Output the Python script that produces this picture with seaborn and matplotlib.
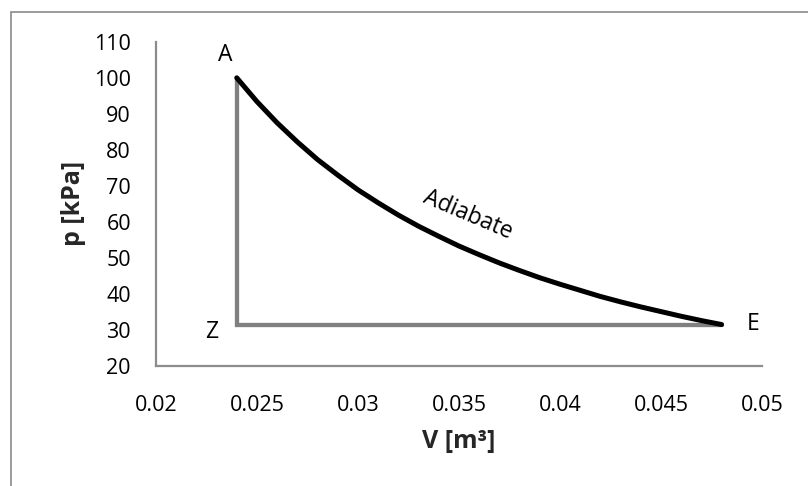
import matplotlib
matplotlib.use("Agg")
import matplotlib.pyplot as plt
import seaborn as sns
from matplotlib.patches import Rectangle

# adiabate (V in m3, p in kPa)
vol = [0.024, 0.025, 0.026, 0.027, 0.028, 0.029, 0.030, 0.031, 0.032,
       0.033, 0.034, 0.035, 0.036, 0.037, 0.038, 0.039, 0.040, 0.041,
       0.042, 0.043, 0.044, 0.045, 0.046, 0.047, 0.048]
pres = [100.0, 93.4, 87.5, 82.2, 77.3, 73.0, 68.9, 65.3, 61.9,
        58.8, 56.0, 53.3, 50.9, 48.6, 46.5, 44.5, 42.7, 41.0,
        39.3, 37.8, 36.4, 35.1, 33.8, 32.6, 31.5]

# isochore + isobar (gray path A -> Z -> E)
path_v = [0.024, 0.024, 0.048]
path_p = [100.0, 31.5, 31.5]

point_names = ["A", "Z", "E"]
point_v = [0.02342, 0.02277, 0.04955]
point_p = [106.4, 29.4, 31.7]

xticks = [0.02, 0.025, 0.03, 0.035, 0.04, 0.045, 0.05]
xtick_labels = ["0.02", "0.025", "0.03", "0.035", "0.04", "0.045", "0.05"]
yticks = [20, 30, 40, 50, 60, 70, 80, 90, 100, 110]

sns.set_theme(style="white")
plt.rcParams["font.family"] = ["Open Sans", "DejaVu Sans"]

AX_GRAY = "#8c8c8c"
FS = 15.5

fig = plt.figure(figsize=(8.08, 4.86), dpi=100)
ax = fig.add_axes([0.193, 0.247, 0.75, 0.667])

sns.lineplot(x=path_v, y=path_p, sort=False, estimator=None, color="#808080",
             lw=3.1, ax=ax, solid_joinstyle="miter")
sns.lineplot(x=vol, y=pres, sort=False, estimator=None, color="black",
             lw=3.6, ax=ax, solid_capstyle="round")

for name, v, p in zip(point_names, point_v, point_p):
    ax.text(v, p, name, ha="center", va="center", fontsize=16.5, color="black")

ax.text(0.03545, 62.0, "Adiabate", rotation=-23, ha="center", va="center",
        fontsize=16.5, color="black", rotation_mode="anchor")

ax.set_xlim(0.02, 0.05)
ax.set_ylim(20, 110)
ax.set_xticks(xticks)
ax.set_xticklabels(xtick_labels)
ax.set_yticks(yticks)

for side in ["top", "right"]:
    ax.spines[side].set_visible(False)
for side in ["left", "bottom"]:
    ax.spines[side].set_color(AX_GRAY)
    ax.spines[side].set_linewidth(1.6)

ax.tick_params(axis="both", direction="out", length=6, width=1.4, color=AX_GRAY,
               labelsize=FS, labelcolor="black")
ax.tick_params(axis="x", pad=15)
ax.tick_params(axis="y", pad=12)

ax.set_xlabel("V [m³]", fontsize=18, fontweight="bold", labelpad=9)
ax.set_ylabel("p [kPa]", fontsize=18, fontweight="bold", labelpad=6)

# chart border like the spreadsheet frame (only left/top visible)
fig.patches.append(Rectangle((10.5 / 808, -1.0), 2.0, 1.0 + 1 - 12.5 / 486,
                             transform=fig.transFigure, fill=False,
                             edgecolor="#8a8a8a", lw=1.2))

fig.savefig("out.png", dpi=100)
plt.close()
